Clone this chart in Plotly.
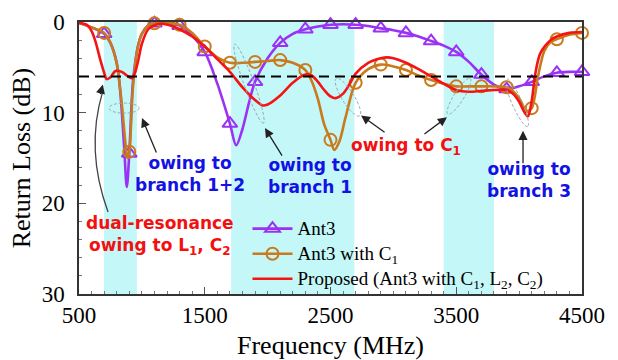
import math
import plotly.graph_objects as go

# ---- Return-loss curves (frequency in MHz, return loss in dB) ----
freq_ant3 = [500, 600, 700, 750, 800, 830, 860, 880, 900, 930, 970, 1000, 1050, 1100, 1200,
             1300, 1400, 1500, 1600, 1700, 1750, 1800, 1850, 1900, 2000, 2100, 2200, 2300,
             2400, 2500, 2600, 2700, 2800, 2900, 3000, 3100, 3200, 3300, 3400, 3500, 3600,
             3700, 3800, 3900, 4000, 4100, 4200, 4300, 4400, 4500]
rl_ant3 = [0.1, 0.6, 1.3, 2.3, 4.5, 8.0, 14.0, 18.2, 14.5, 6.5, 2.6, 1.3, 0.4, 0.15, 0.1,
           0.4, 1.5, 3.3, 6.8, 11.2, 13.6, 11.8, 9.0, 6.6, 4.0, 2.3, 1.3, 0.8,
           0.5, 0.3, 0.25, 0.3, 0.45, 0.7, 0.9, 1.2, 1.6, 2.1, 2.6, 3.3, 4.4,
           5.8, 6.9, 7.4, 7.1, 6.6, 6.0, 5.6, 5.5, 5.5]

freq_c1 = [500, 600, 700, 750, 800, 840, 870, 885, 900, 930, 970, 1000, 1050, 1100, 1200,
           1300, 1400, 1500, 1600, 1700, 1800, 1900, 2000, 2100, 2200, 2300, 2350, 2400,
           2450, 2500, 2530, 2570, 2620, 2700, 2800, 2900, 3000, 3100, 3200, 3300, 3400,
           3500, 3600, 3700, 3800, 3900, 3950, 4000, 4060, 4100, 4150, 4200, 4250, 4300,
           4400, 4500]
rl_c1 = [0.1, 0.6, 1.2, 2.3, 4.6, 9.0, 13.5, 15.0, 14.3, 7.0, 2.6, 1.3, 0.4, 0.15, 0.1,
         0.3, 1.2, 2.7, 3.9, 4.5, 4.5, 4.4, 4.3, 4.2, 4.5, 5.3, 6.5, 8.5,
         11.3, 13.0, 14.1, 13.2, 10.5, 6.7, 5.2, 4.7, 4.9, 5.3, 5.9, 6.4, 6.8,
         7.1, 7.1, 7.1, 7.1, 7.2, 7.6, 8.4, 9.8, 9.5, 6.0, 3.2, 2.2, 1.9,
         1.4, 1.2]

freq_prop = [500, 560, 600, 630, 670, 700, 720, 750, 790, 840, 880, 920, 945, 970, 1000,
             1050, 1100, 1160, 1250, 1300, 1400, 1500, 1600, 1700, 1800, 1900, 1960, 2000,
             2100, 2200, 2300, 2350, 2400, 2450, 2500, 2540, 2600, 2650, 2700, 2800, 2900,
             2950, 3000, 3100, 3200, 3300, 3400, 3500, 3600, 3700, 3800, 3900, 3950, 4000,
             4040, 4070, 4100, 4130, 4170, 4250, 4300, 4400, 4500]
rl_prop = [0.1, 0.3, 1.0, 2.1, 4.2, 5.6, 6.3, 6.1, 5.4, 5.5, 5.9, 6.2, 5.6, 4.3, 2.4,
           0.8, 0.35, 0.2, 0.5, 0.8, 1.6, 2.7, 4.1, 5.5, 7.2, 8.6, 9.2, 9.1,
           8.1, 6.7, 5.8, 5.9, 6.6, 7.5, 8.2, 8.4, 7.9, 6.9, 5.7, 4.5, 4.0,
           3.9, 4.0, 4.5, 5.2, 6.0, 6.8, 7.5, 7.7, 7.6, 7.5, 7.5, 7.9, 8.8,
           9.9, 10.4, 8.7, 5.6, 3.4, 2.0, 1.6, 1.2, 1.1]

# Frequencies at which the symbols are drawn
marker_freqs = [700, 900, 1100, 1300, 1500, 1700, 1900, 2100, 2300, 2500,
                2700, 2900, 3100, 3300, 3500, 3700, 3900, 4100, 4300, 4500]

# Operating bands (MHz) and the 6 dB return-loss criterion
bands = [(698, 960), (1710, 2690), (3400, 3800)]
rl_threshold = 6

series_names = ["Ant3", "Ant3 with C<sub>1</sub>",
                "Proposed (Ant3 with C<sub>1</sub>, L<sub>2</sub>, C<sub>2</sub>)"]

X_RANGE = (500, 4500)
Y_RANGE = (30, 0)
PLOT_W, PLOT_H = 503, 272
M_L, M_R, M_T, M_B = 79, 36, 22, 66

PURPLE = "#9a32f5"
ORANGE = "#c97a1c"
RED = "#f41414"
CYAN = "#c4f7f8"
BLUE_TXT = "#1212e4"
RED_TXT = "#f21010"
SERIF = "Liberation Serif, Times New Roman, serif"
SANS = "DejaVu Sans, Verdana, sans-serif"

MHZ_PER_PX = (X_RANGE[1] - X_RANGE[0]) / PLOT_W
DB_PER_PX = (Y_RANGE[0] - Y_RANGE[1]) / PLOT_H


def pick(freqs, vals, wanted):
    table = dict(zip(freqs, vals))
    return [table[f] for f in wanted]


fig = go.Figure()

# frequency bands
for lo, hi in bands:
    fig.add_shape(type="rect", xref="x", yref="paper", x0=lo, x1=hi, y0=0, y1=1,
                  fillcolor=CYAN, line_width=0, layer="below")

# 6 dB reference
fig.add_shape(type="line", xref="x", yref="y", x0=X_RANGE[0], x1=X_RANGE[1],
              y0=rl_threshold, y1=rl_threshold,
              line=dict(color="black", width=2, dash="10px,6px"))

styles = [
    (freq_ant3, rl_ant3, PURPLE, "triangle-up-open", 13),
    (freq_c1, rl_c1, ORANGE, "circle-open", 12),
    (freq_prop, rl_prop, RED, None, 0),
]

for (fx, fy, color, symbol, msize), name in zip(styles, series_names):
    fig.add_trace(go.Scatter(x=fx, y=fy, mode="lines", line=dict(color=color, width=2.6,
                             shape="spline", smoothing=0.9), showlegend=False,
                             hoverinfo="skip"))
    if symbol:
        fig.add_trace(go.Scatter(x=marker_freqs, y=pick(fx, fy, marker_freqs), mode="markers",
                                 marker=dict(symbol=symbol, size=msize, color=color,
                                             line=dict(color=color, width=2)),
                                 cliponaxis=False, showlegend=False))
    # legend entry
    fig.add_trace(go.Scatter(x=[None], y=[None], mode="lines+markers" if symbol else "lines",
                             name='<span style="font-size:19px">%s</span>' % name,
                             line=dict(color=color, width=2.6),
                             marker=dict(symbol=symbol or "circle", size=msize or 1,
                                         color=color, line=dict(color=color, width=2))))


# dashed ellipses marking the resonances
def ellipse_path(fc, rc, a_px, b_px, ang_deg, n=60):
    th = math.radians(ang_deg)
    pts = []
    for i in range(n + 1):
        t = 2 * math.pi * i / n
        dx = a_px * math.cos(t) * math.cos(th) - b_px * math.sin(t) * math.sin(th)
        dy = a_px * math.cos(t) * math.sin(th) + b_px * math.sin(t) * math.cos(th)
        pts.append((fc + dx * MHZ_PER_PX, rc + dy * DB_PER_PX))
    return "M" + " L".join("%.2f,%.3f" % p for p in pts) + " Z"


ellipses = [(858, 9.5, 15, 5, 0), (1852, 6.8, 42, 5, 70), (2639, 8.3, 22, 6, 58),
            (3522, 8.2, 21, 5, -58), (3983, 8.9, 26, 5, 66)]
for e in ellipses:
    fig.add_shape(type="path", xref="x", yref="y", path=ellipse_path(*e),
                  line=dict(color="#9aa6a6", width=1, dash="3px,2px"))

# curved pointer for the dual resonance
fig.add_shape(type="path", xref="x", yref="y", path="M731,20.95 Q548,14.1 690,7.6",
              line=dict(color="#444", width=1.3))

arrows = [(1001, 10.6, 15, 36), (1979, 11.7, 18, 29), (2743, 10.3, 25, 18),
          (3426, 10.5, -24, 18), (4031, 12.0, 0, 34), (690, 6.9, -3, 11)]
for ax_, ay_, dx, dy in arrows:
    fig.add_annotation(x=ax_, y=ay_, xref="x", yref="y", text="", showarrow=True,
                       ax=dx, ay=dy, arrowhead=2, arrowsize=1.4, arrowwidth=1.3,
                       arrowcolor="#222", standoff=0)

labels = [
    ("owing to<br>branch 1+2", 1383, 16.76, BLUE_TXT),
    ("owing to<br>branch 1", 2337, 16.99, BLUE_TXT),
    ("owing to C<sub>1</sub>", 3100, 13.7, RED_TXT),
    ("owing to<br>branch 3", 4079, 17.48, BLUE_TXT),
    ("dual-resonance<br>owing to L<sub>1</sub>, C<sub>2</sub>", 1145, 23.5, RED_TXT),
]
for txt, x, y, col in labels:
    fig.add_annotation(x=x, y=y, xref="x", yref="y", text="<b>%s</b>" % txt,
                       showarrow=False, xanchor="center", yanchor="middle",
                       font=dict(family=SANS, size=17, color=col))

axis_common = dict(showgrid=False, zeroline=False, showline=True, mirror=True,
                   linecolor="#333", linewidth=1.5, ticks="inside", ticklen=7,
                   tickwidth=1.2, tickcolor="#555",
                   tickfont=dict(family=SERIF, size=23, color="black"))

fig.update_xaxes(range=list(X_RANGE), tickmode="linear", tick0=500, dtick=1000,
                 minor=dict(dtick=100, ticks="inside", ticklen=3.5, tickcolor="#777"),
                 title=dict(text="Frequency (MHz)", font=dict(family=SERIF, size=26,
                            color="black"), standoff=8),
                 ticklabelstandoff=0, **axis_common)
fig.update_yaxes(range=list(Y_RANGE), tickmode="linear", tick0=0, dtick=10,
                 minor=dict(dtick=2, ticks="inside", ticklen=3.5, tickcolor="#777"),
                 title=dict(text="Return Loss (dB)", font=dict(family=SERIF, size=26,
                            color="black"), standoff=4),
                 ticklabelstandoff=8, **axis_common)

fig.update_layout(
    width=618, height=360,
    margin=dict(l=M_L, r=M_R, t=M_T, b=M_B, autoexpand=False),
    plot_bgcolor="white", paper_bgcolor="white",
    legend=dict(x=0.335, y=0.305, xanchor="left", yanchor="top", bgcolor="rgba(0,0,0,0)",
                font=dict(family=SERIF, size=17, color="black"), itemwidth=40,
                tracegroupgap=0),
    showlegend=True,
)

fig.write_html("out.html")
